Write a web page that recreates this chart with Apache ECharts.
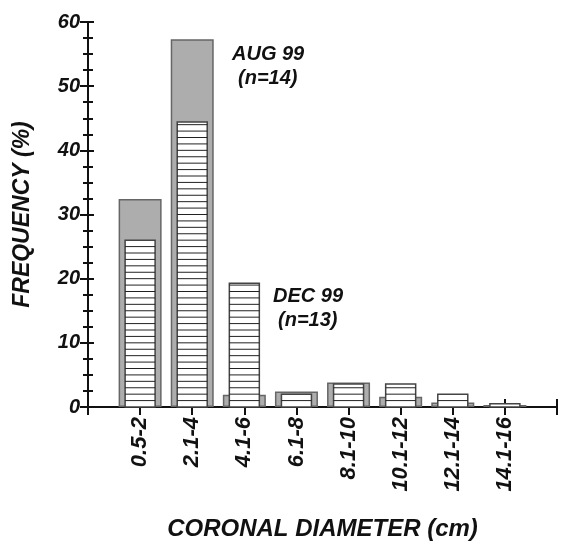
<!DOCTYPE html>
<html>
<head>
<meta charset="utf-8">
<script src="https://cdn.jsdelivr.net/npm/echarts@6/dist/echarts.min.js"></script>
<style>
  html, body { margin: 0; padding: 0; background: #fff; }
  #chart { width: 563px; height: 542px; }
</style>
</head>
<body>
<div id="chart"></div>
<script>
  // size classes (cm), placed at x = 1..8
  var classes = ['0.5-2', '2.1-4', '4.1-6', '6.1-8', '8.1-10', '10.1-12', '12.1-14', '14.1-16'];
  var aug99 = [32.4, 57.3, 1.9, 2.4, 3.8, 1.6, 0.7, 0.3];
  var dec99 = [26.0, 44.4, 19.3, 2.0, 3.6, 3.6, 2.0, 0.5];
  var yTicks = [0, 10, 20, 30, 40, 50, 60];

  var font = '"Liberation Sans", Arial, sans-serif';
  var chart = echarts.init(document.getElementById('chart'));

  // striped bar for DEC 99
  function stripedBar(params, api) {
    var x = api.value(0), v = api.value(1);
    var base = api.coord([x, 0]);
    var top = api.coord([x, v]);
    var w = 30;
    var children = [{
      type: 'rect',
      shape: { x: base[0] - w / 2, y: top[1], width: w, height: base[1] - top[1] },
      style: { fill: '#fff', stroke: '#444', lineWidth: 1.5 }
    }];
    for (var k = 1; k < v; k++) {
      var p = api.coord([x, k]);
      children.push({
        type: 'line',
        shape: { x1: base[0] - w / 2, y1: p[1], x2: base[0] + w / 2, y2: p[1] },
        style: { stroke: '#222', lineWidth: 1 }
      });
    }
    return { type: 'group', children: children };
  }

  var axisLine = { show: true, lineStyle: { color: '#111', width: 2 } };
  var tickStyle = { color: '#111', width: 2 };

  chart.setOption({
    animation: false,
    grid: { left: 88, right: 6, top: 22, bottom: 135, outerBoundsMode: 'none', containLabel: false },
    xAxis: [{
      type: 'value', min: 0, max: 9, interval: 1, position: 'bottom',
      axisLine: axisLine,
      axisTick: { show: true, inside: false, length: 8, lineStyle: tickStyle },
      splitLine: { show: false },
      axisLabel: {
        rotate: 90, margin: 10,
        fontFamily: font, fontSize: 22, fontWeight: 'bold', fontStyle: 'italic', color: '#111',
        formatter: function (v) { return classes[v - 1] || ''; }
      },
      name: 'CORONAL DIAMETER (cm)', nameLocation: 'middle', nameGap: 110,
      nameTextStyle: { fontFamily: font, fontSize: 24, fontWeight: 'bold', fontStyle: 'italic', color: '#111' }
    }, {
      type: 'value', min: 0, max: 9, interval: 1, position: 'top',
      axisLine: axisLine,
      axisTick: { show: true, inside: false, length: 8, lineStyle: tickStyle },
      splitLine: { show: false },
      axisLabel: { show: false }
    }],
    yAxis: [{
      type: 'value', min: 0, max: 60, interval: 10, position: 'left',
      axisLine: axisLine,
      axisTick: { show: true, inside: false, length: 8, lineStyle: tickStyle },
      minorTick: { show: true, splitNumber: 4, length: 5, lineStyle: tickStyle },
      splitLine: { show: false },
      minorSplitLine: { show: false },
      axisLabel: {
        margin: 8, fontFamily: font, fontSize: 20, fontWeight: 'bold', fontStyle: 'italic', color: '#111',
        formatter: function (v) { return yTicks.indexOf(v) >= 0 ? String(v) : ''; }
      },
      name: 'FREQUENCY (%)', nameLocation: 'middle', nameGap: 54, nameRotate: 90,
      nameTextStyle: { fontFamily: font, fontSize: 23, fontWeight: 'bold', fontStyle: 'italic', color: '#111' }
    }, {
      type: 'value', min: 0, max: 60, interval: 10, position: 'right',
      axisLine: axisLine,
      axisTick: { show: true, inside: false, length: 6, lineStyle: tickStyle },
      minorTick: { show: true, splitNumber: 4, length: 5, lineStyle: tickStyle },
      splitLine: { show: false },
      axisLabel: { show: false }
    }],
    series: [{
      name: 'AUG 99', type: 'bar', xAxisIndex: 0, yAxisIndex: 0,
      barWidth: 43,
      itemStyle: { color: '#adadad', borderColor: '#666', borderWidth: 1.5 },
      data: aug99.map(function (v, i) { return [i + 1, v]; }),
      z: 2
    }, {
      name: 'DEC 99', type: 'custom', xAxisIndex: 0, yAxisIndex: 0,
      renderItem: stripedBar,
      data: dec99.map(function (v, i) { return [i + 1, v]; }),
      z: 3
    }],
    graphic: [{
      type: 'text', left: 232, top: 44,
      style: { text: 'AUG 99', font: 'italic bold 20px ' + font, fill: '#111' }
    }, {
      type: 'text', left: 238, top: 68,
      style: { text: '(n=14)', font: 'italic bold 20px ' + font, fill: '#111' }
    }, {
      type: 'text', left: 273, top: 286,
      style: { text: 'DEC 99', font: 'italic bold 20px ' + font, fill: '#111' }
    }, {
      type: 'text', left: 278, top: 310,
      style: { text: '(n=13)', font: 'italic bold 20px ' + font, fill: '#111' }
    }]
  });
</script>
</body>
</html>
